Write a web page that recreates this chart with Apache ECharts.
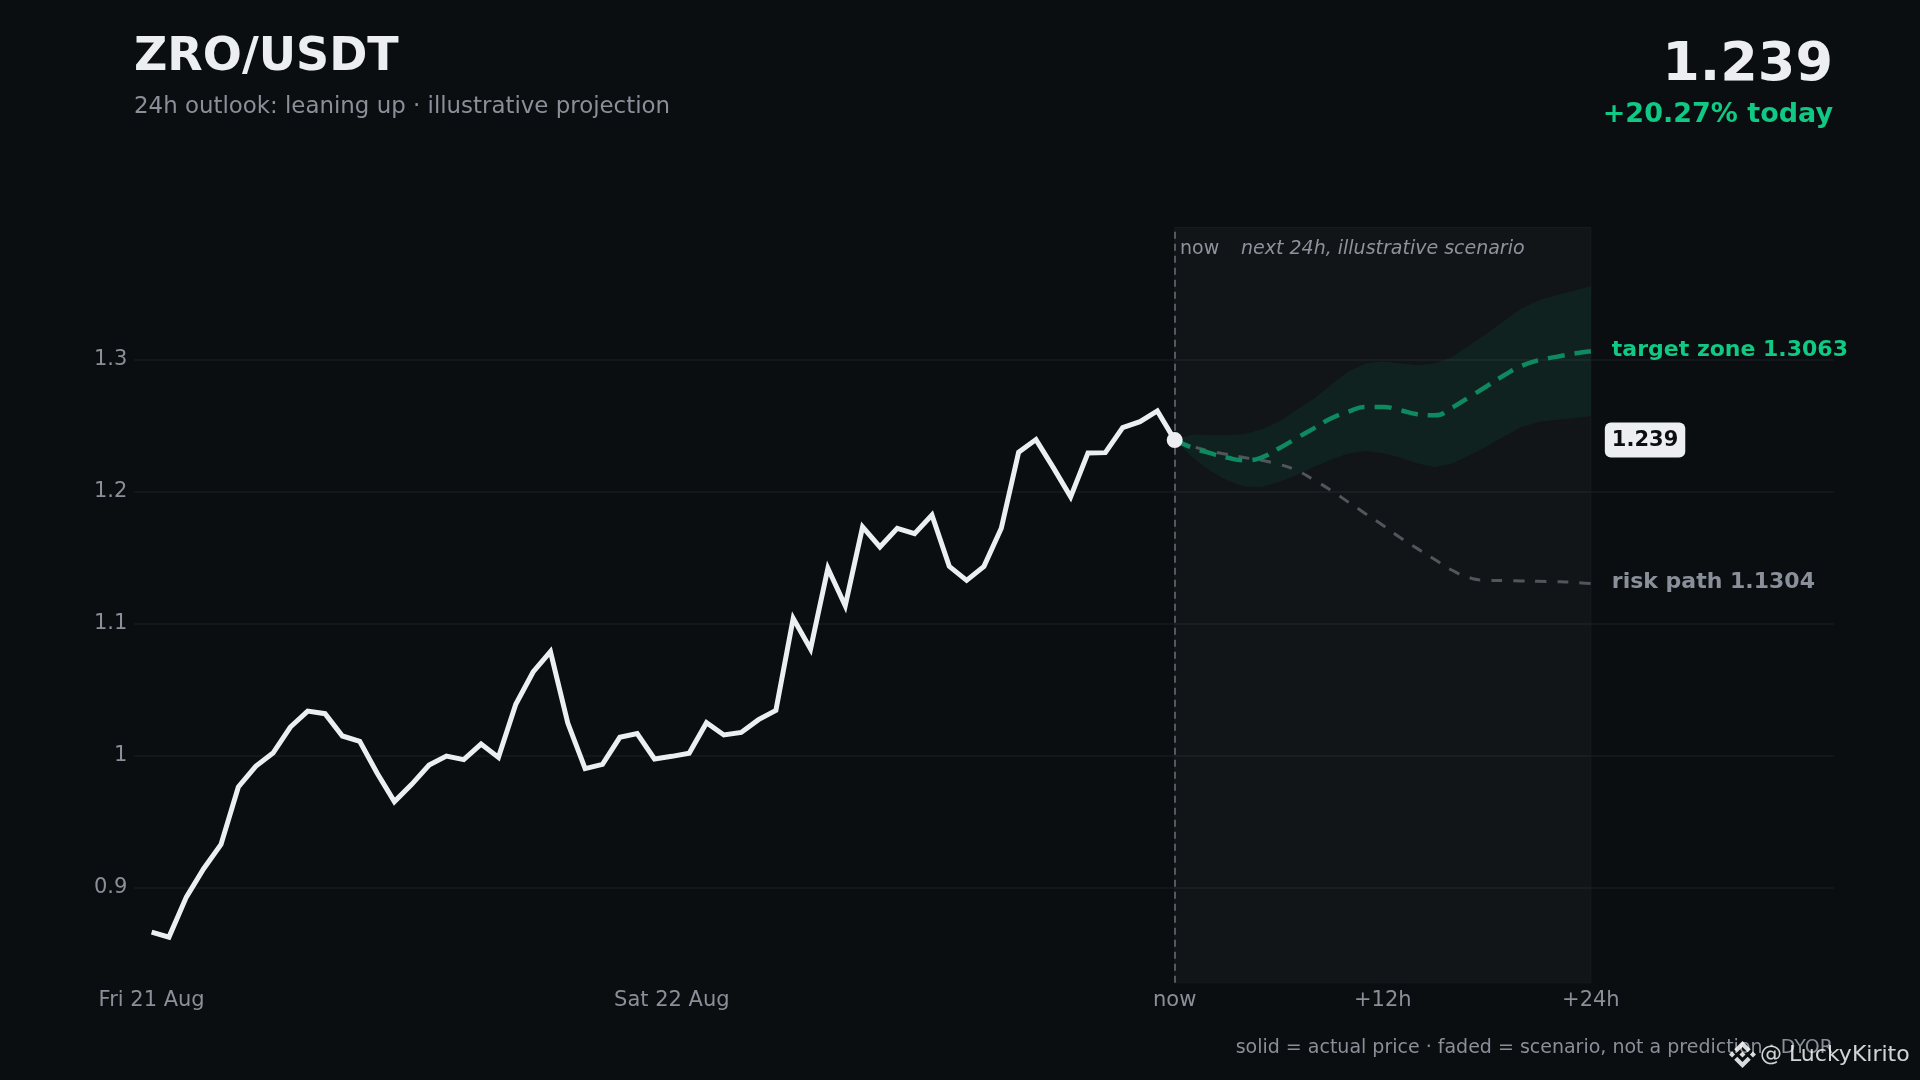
<!DOCTYPE html>
<html><head><meta charset="utf-8">
<style>html,body{margin:0;padding:0;background:#0a0e11}#c{width:1920px;height:1080px}</style>
<script src="https://cdn.jsdelivr.net/npm/echarts@6/dist/echarts.min.js"></script>
</head><body><div id="c"></div>
<script>
const priceHistory=[0.8664,0.8626,0.8929,0.9144,0.9328,0.9763,0.9919,1.002,1.0217,1.0338,1.0318,1.0149,1.0109,0.9869,0.9652,0.9783,0.9929,0.9997,0.997,1.0088,0.9987,1.0389,1.0634,1.0788,1.0247,0.9902,0.9934,1.0139,1.0167,0.9975,0.9995,1.0018,1.025,1.0157,1.0176,1.0273,1.0343,1.104,1.0808,1.1419,1.1136,1.1732,1.1581,1.1722,1.1682,1.1823,1.1434,1.1328,1.1434,1.1722,1.2298,1.2394,1.2182,1.196,1.2293,1.2295,1.2485,1.253,1.2611,1.239];
const targetPath=[1.239,1.2333,1.2293,1.2258,1.2237,1.2258,1.2326,1.2402,1.2477,1.2553,1.2604,1.2641,1.2641,1.2616,1.2586,1.2578,1.2636,1.2717,1.2798,1.2881,1.2952,1.2995,1.302,1.3045,1.3063];
const riskPath=[1.239,1.2343,1.2308,1.2283,1.2258,1.2237,1.2207,1.2162,1.2091,1.201,1.1922,1.1833,1.1745,1.1652,1.1568,1.1485,1.1404,1.1348,1.1328,1.1326,1.1323,1.1321,1.1318,1.1313,1.1304];
const bandUpper=[1.239,1.2432,1.2429,1.2427,1.2434,1.247,1.2528,1.2616,1.27,1.2806,1.2907,1.297,1.2985,1.297,1.2957,1.297,1.302,1.3109,1.3197,1.3293,1.3386,1.345,1.3487,1.352,1.3556];
const bandLower=[1.239,1.2263,1.2162,1.2086,1.204,1.2035,1.2073,1.2124,1.2187,1.2242,1.2288,1.2308,1.2293,1.2258,1.2212,1.2187,1.2212,1.2275,1.2343,1.2419,1.249,1.2528,1.2545,1.2558,1.2571];
const yTicks=[0.9,1,1.1,1.2,1.3];
const xTickLabels={'-59':'Fri 21 Aug','-29':'Sat 22 Aug','0':'now','12':'+12h','24':'+24h'};
const lastPrice=1.239, targetEnd=1.3063, riskEnd=1.1304;

const GREY='#8a9099', WHITE='#eceef2', GREEN='#10c985';
const FONT='"DejaVu Sans"';
const LOGO='M16.624 13.9202l2.7175 2.7154-7.353 7.353-7.353-7.352 2.7175-2.7164 4.6355 4.6595 4.6356-4.6595zm4.6366-4.6366L24 12l-2.7154 2.7164L18.5682 12l2.6924-2.7164zm-9.272.001l2.7163 2.6914-2.7164 2.7174v-.001L9.2721 12l2.7164-2.7154zm-9.2722-.001L5.4088 12l-2.6914 2.6924L0 12l2.7164-2.7164zM11.9885.0115l7.353 7.329-2.7174 2.7154-4.6356-4.6356-4.6355 4.6595-2.7174-2.7154 7.353-7.353z';
const hist=priceHistory.map((v,i)=>[i-59,v]);
const hrs=targetPath.map((_,i)=>i);
const chart=echarts.init(document.getElementById('c'),null,{renderer:'canvas',width:1920,height:1080});
chart.setOption({
  backgroundColor:'#0a0e11',animation:false,
  textStyle:{fontFamily:FONT},
  grid:{left:134.3,top:227.5,width:1699.3,height:755.3,containLabel:false},
  xAxis:{type:'value',min:-60,max:38,
    axisLine:{show:false},axisTick:{show:false},splitLine:{show:false},
    axisLabel:{customValues:Object.keys(xTickLabels).map(Number),color:GREY,fontSize:21,margin:7,fontFamily:FONT,
      hideOverlap:false,showMinLabel:true,showMaxLabel:true,
      formatter:v=>xTickLabels[String(v)]||''}},
  yAxis:{type:'value',min:0.828,max:1.4,
    axisLine:{show:false},axisTick:{show:false,customValues:yTicks},
    splitLine:{show:true,lineStyle:{color:'#161b1f',width:1.5}},
    axisLabel:{customValues:yTicks,color:GREY,fontSize:21,margin:7,padding:[5,0,0,0],fontFamily:FONT,formatter:v=>String(+v.toFixed(2))}},
  series:[
    {type:'line',name:'zone',data:[],silent:true,z:1,
      markArea:{silent:true,itemStyle:{color:'rgba(255,255,255,0.03)',borderColor:'#161b1e',borderWidth:1},data:[[{xAxis:0,yAxis:0.828},{xAxis:24,yAxis:1.4}]]},
      markLine:{silent:true,symbol:'none',label:{show:false},lineStyle:{color:'#6b7077',type:[7,5],width:1.5},data:[{xAxis:0}]}},
    {type:'custom',name:'band',z:2,silent:true,clip:false,
      data:hrs.map(h=>[h,bandUpper[h],bandLower[h]]),
      encode:{x:0,y:[1,2]},
      renderItem:(params,api)=>{
        if(params.dataIndex!==0) return null;
        const up=hrs.map(h=>api.coord([h,bandUpper[h]]));
        const lo=hrs.map(h=>api.coord([h,bandLower[h]])).reverse();
        return {type:'polygon',shape:{points:up.concat(lo)},style:{fill:'rgba(16,201,133,0.075)'}};
      }},
    {type:'line',name:'risk',data:hrs.map(h=>[h,riskPath[h]]),smooth:true,symbol:'none',lineStyle:{color:'#50565b',width:3,type:[11,11]},z:3,silent:true},
    {type:'line',name:'target',data:hrs.map(h=>[h,targetPath[h]]),smooth:true,symbol:'none',lineStyle:{color:'#0e8a60',width:4.5,type:[17,10]},z:4,silent:true},
    {type:'line',name:'price',data:hist,symbol:'none',lineStyle:{color:WHITE,width:5,join:'miter'},z:5,silent:true},
    {type:'scatter',name:'nowDot',data:[[0,lastPrice]],symbol:'circle',symbolSize:16,itemStyle:{color:WHITE,opacity:1},z:6,silent:true},
    {type:'scatter',name:'labels',symbolSize:0,z:7,silent:true,itemStyle:{opacity:1},data:[
      {value:[24,targetEnd],label:{show:true,position:'right',distance:21,offset:[0,-1],formatter:'target zone '+targetEnd,color:GREEN,fontSize:22,fontWeight:'bold',fontFamily:FONT}},
      {value:[24,riskEnd],label:{show:true,position:'right',distance:21,offset:[0,-1],formatter:'risk path '+riskEnd,color:GREY,fontSize:22,fontWeight:'bold',fontFamily:FONT}},
      {value:[24,lastPrice],label:{show:true,position:'right',distance:14,formatter:String(lastPrice),color:'#0a0e11',fontSize:21,fontWeight:'bold',fontFamily:FONT,backgroundColor:WHITE,borderRadius:6,padding:[7,7,7,7]}}
    ]},
    {type:'custom',name:'logo',coordinateSystem:'none',z:20,silent:true,data:[[0]],
      renderItem:()=>({type:'path',shape:{pathData:LOGO,layout:'cover',x:1729,y:1041,width:27,height:27},style:{fill:'rgba(255,255,255,0.85)'}})}
  ],
  graphic:[
    {type:'text',left:134,top:35,style:{text:'ZRO/USDT',font:'bold 46px '+FONT,fill:WHITE}},
    {type:'text',left:134,top:96,style:{text:'24h outlook: leaning up · illustrative projection',font:'22.9px '+FONT,fill:GREY}},
    {type:'text',right:87,top:39,style:{text:String(lastPrice),font:'bold 54px '+FONT,fill:WHITE}},
    {type:'text',right:87,top:101,style:{text:'+20.27% today',font:'bold 27px '+FONT,fill:GREEN}},
    {type:'text',left:1180,top:240,style:{text:'now',font:'19px '+FONT,fill:GREY}},
    {type:'text',left:1241,top:240,style:{text:'next 24h, illustrative scenario',font:'italic 19px '+FONT,fill:GREY}},
    {type:'text',right:87,top:1039,style:{text:'solid = actual price · faded = scenario, not a prediction · DYOR',font:'19px '+FONT,fill:GREY}},
    {type:'text',left:1760,top:1044,z:21,style:{text:'@ LuckyKirito',font:'22px '+FONT,fill:'rgba(255,255,255,0.82)'}}
  ]
});
</script></body></html>
